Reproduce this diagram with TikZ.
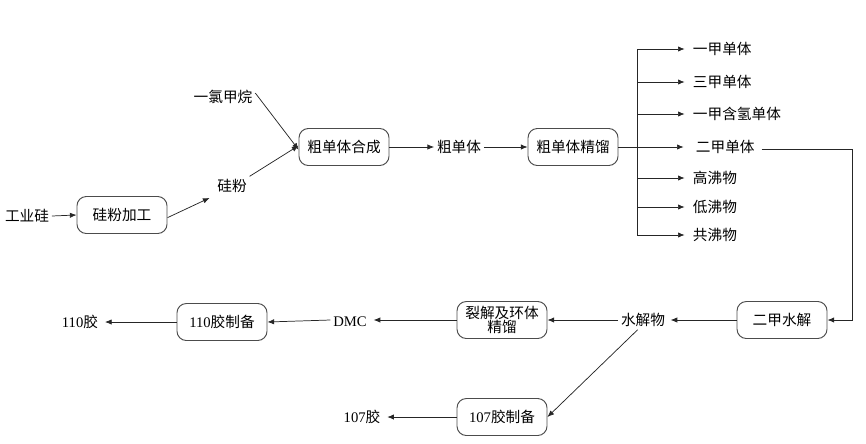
\documentclass[tikz,border=0pt]{standalone}
\usepackage{fontspec}
\setmainfont{Liberation Serif}
\newfontfamily\cjk{Noto Sans CJK SC}
\newcommand\lat[1]{{\rmfamily #1}}
\usepackage{tikz}
\usetikzlibrary{arrows.meta}

\tikzset{
  procbox/.style={draw=black!70, line width=0.7pt, rounded corners=7pt, minimum width=67.5pt, minimum height=27.75pt, inner sep=1pt, align=center, font=\cjk\fontsize{11}{13}\selectfont},
  txt/.style={inner sep=2pt, font=\cjk\fontsize{11}{13}\selectfont},
  arr/.style={draw=black!85, line width=0.55pt, -{Latex[length=5pt,width=4pt]}},
  ln/.style={draw=black!85, line width=0.55pt}
}

\begin{document}
\begin{tikzpicture}[x=0.75pt,y=0.75pt,yscale=-1,xscale=1]
\useasboundingbox (0,0) rectangle (866,443);

%Shape: process boxes
\node[procbox] (jiagong) at (122,215) {硅粉加工};
\node[procbox] (hecheng) at (344,147) {粗单体合成};
\node[procbox] (jingliu) at (573,147) {粗单体精馏};
\node[procbox] (shuijie) at (782,320) {二甲水解};
\node[procbox] (liejie) at (502,320) {裂解及环体\\[-2pt]精馏};
\node[procbox] (zhi110) at (222,322) {\lat{110}胶制备};
\node[procbox] (zhi107) at (502,417) {\lat{107}胶制备};

% Text Node
\node[txt] (gyg) at (27,216) {工业硅};
\node[txt] (guifen) at (232,186) {硅粉};
\node[txt] (ylj) at (223,97) {一氯甲烷};
\node[txt] (cdt) at (459,147) {粗单体};
\node[txt] (sjw) at (643,320) {水解物};
\node[txt] (dmc) at (350,322) {\lat{DMC}};
\node[txt] (jiao110) at (80,322) {\lat{110}胶};
\node[txt] (jiao107) at (362,417) {\lat{107}胶};

%Straight Lines: feed side
\draw[arr] (gyg.east) -- (jiagong.west);
\draw[arr, shorten >=4pt] ([yshift=2pt]jiagong.east) -- (guifen.south west);
\draw[arr] ([yshift=-3pt]ylj.east) -- ([yshift=2pt]hecheng.west);
\draw[arr] (guifen.north east) -- ([yshift=-1pt]hecheng.west);
\draw[arr] (hecheng.east) -- (cdt.west);
\draw[arr] (cdt.east) -- (jingliu.west);

%Straight Lines: fractions of the crude monomer
\coordinate (bus) at (637,0);
\foreach \name/\yy/\txt in {p1/49/一甲单体, p2/82/三甲单体, p3/114/一甲含氢单体, p5/178/高沸物, p6/207/低沸物, p7/235/共沸物}{
  \node[txt, anchor=west] (\name) at (690,\yy) {\txt};
  \draw[arr, shorten >=4pt] (bus |- \name.west) -- (\name.west);
}
\node[txt, anchor=west] (p4) at (693,147) {二甲单体};
\draw[ln] (bus |- p1.west) -- (bus |- p7.west);
\draw[arr, shorten >=7pt] (jingliu.east) -- (p4.west);

%Straight Lines: dimethyl branch
\coordinate (rt) at (852,0);
\draw[arr] ([xshift=3pt,yshift=2pt]p4.east) -- ([yshift=2pt]p4.east -| rt) -- (rt |- shuijie.east) -- (shuijie.east);
\draw[arr, shorten >=2pt] (shuijie.west) -- (sjw.east);
\draw[arr] (sjw.west) -- (liejie.east);
\draw[arr, shorten >=3pt] (liejie.west) -- ([yshift=-1.5pt]dmc.east);
\draw[arr] ([yshift=-1.5pt]dmc.west) -- (zhi110.east);
\draw[arr, shorten >=3pt] (zhi110.west) -- (jiao110.east);
\draw[arr] ([xshift=-4pt]sjw.south) -- (zhi107.east);
\draw[arr, shorten >=3pt] (zhi107.west) -- (jiao107.east);

\end{tikzpicture}
\end{document}
